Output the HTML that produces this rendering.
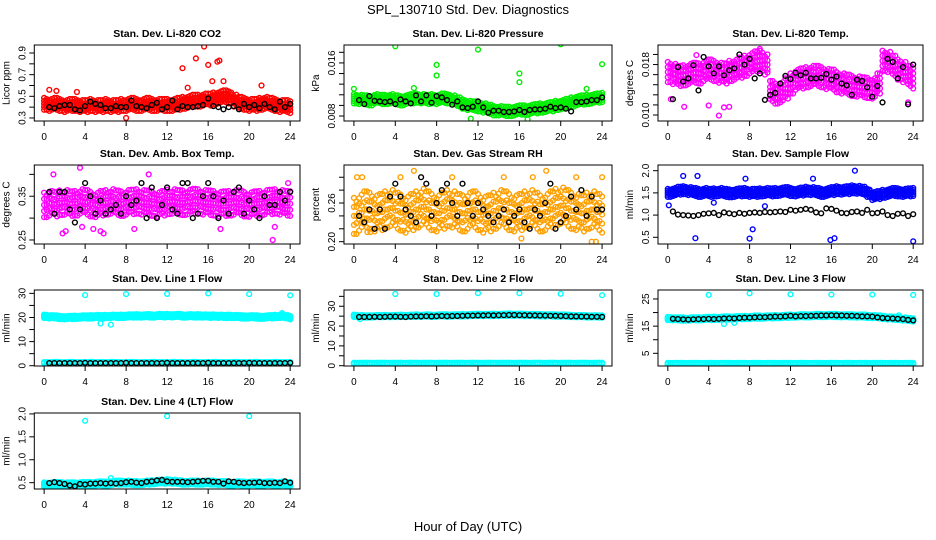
<!DOCTYPE html>
<html><head><meta charset="utf-8"><style>
html,body{margin:0;padding:0;background:#fff;}
svg{display:block;font-family:"Liberation Sans",sans-serif;}
</style></head><body>
<svg id="chart" width="936" height="540" viewBox="0 0 936 540" xmlns="http://www.w3.org/2000/svg">
<rect width="936" height="540" fill="#fff"/>
<text x="468" y="14" font-size="13" text-anchor="middle">SPL_130710  Std. Dev. Diagnostics</text>
<text x="468" y="531" font-size="13" text-anchor="middle">Hour of Day (UTC)</text>
</svg>
<script>
const hourTicks=[0,4,8,12,16,20,24];
// panel 1 CO2
const m1=[0.43,0.42,0.43,0.42,0.41,0.42,0.42,0.41,0.41,0.42,0.41,0.41,0.42,0.41,0.41,0.42,0.42,0.43,0.42,0.42,0.43,0.42,0.42,0.42,0.42,0.42,0.43,0.44,0.45,0.46,0.46,0.47,0.47,0.48,0.49,0.50,0.49,0.46,0.44,0.43,0.42,0.42,0.43,0.44,0.43,0.42,0.41,0.41,0.40];
const b1=[0.40,0.39,0.41,0.42,0.42,0.38,0.37,0.41,0.45,0.43,0.42,0.39,0.39,0.41,0.40,0.40,0.46,0.41,0.40,0.39,0.42,0.44,0.38,0.40,0.46,0.38,0.41,0.40,0.40,0.41,0.42,0.48,0.41,0.40,0.38,0.40,0.41,0.38,0.43,0.40,0.42,0.39,0.43,0.40,0.38,0.45,0.40,0.43];
const o1=[[13.5,0.76],[14.8,0.85],[15.6,0.96],[16,0.79],[16.9,0.82],[17.1,0.83],[8,0.30],[0.5,0.56],[1.2,0.55],[3.2,0.54],[16.4,0.64],[17.5,0.64],[21.2,0.60],[14,0.58]];
// panel 2 pressure
const m2=[0.0106,0.0105,0.0104,0.0103,0.0106,0.0105,0.0105,0.0106,0.0104,0.0103,0.0105,0.0106,0.0107,0.0106,0.0105,0.0106,0.0105,0.0107,0.0106,0.0104,0.0101,0.0098,0.0096,0.0095,0.0094,0.0092,0.0090,0.0088,0.0088,0.0087,0.0087,0.0088,0.0089,0.0089,0.0090,0.0091,0.0092,0.0093,0.0094,0.0096,0.0097,0.0099,0.0101,0.0103,0.0104,0.0105,0.0106,0.0107,0.0108];
const b2=[0.0104,0.0098,0.0110,0.0103,0.0102,0.0101,0.0102,0.0098,0.0105,0.0102,0.0099,0.0111,0.0102,0.0111,0.0100,0.0110,0.0108,0.0104,0.0097,0.0102,0.0093,0.0092,0.0094,0.0102,0.0093,0.0085,0.0088,0.0088,0.0086,0.0086,0.0087,0.0089,0.0086,0.0089,0.0090,0.0090,0.0091,0.0094,0.0092,0.0093,0.0091,0.0087,0.0101,0.0101,0.0102,0.0104,0.0104,0.0108];
const o2=[[0,0.0121],[4,0.0185],[8,0.0157],[8,0.0141],[12,0.0180],[16,0.0144],[16,0.0131],[20,0.0188],[24,0.0158],[5.8,0.0122],[22.5,0.0121],[16.8,0.0075],[11.3,0.0076]];
// panel 3 Li-820 temp
const m3=[0.0168,0.0165,0.0162,0.0163,0.0165,0.0167,0.0166,0.0170,0.0172,0.0170,0.0167,0.0166,0.0170,0.0172,0.0175,0.0178,0.0182,0.0185,0.0186,0.0180,0.0138,0.0134,0.0136,0.0142,0.0150,0.0156,0.0158,0.0160,0.0162,0.0162,0.0160,0.0157,0.0156,0.0152,0.0150,0.0148,0.0146,0.0145,0.0144,0.0143,0.0142,0.0150,0.0186,0.0184,0.0178,0.0172,0.0168,0.0162,0.0158];
const b3=[0.0125,0.0176,0.0153,0.0158,0.0179,0.0139,0.0192,0.0177,0.0166,0.0177,0.0163,0.0171,0.0174,0.0196,0.0180,0.0189,0.0158,0.0166,0.0124,0.0132,0.0135,0.0150,0.0162,0.0157,0.0167,0.0163,0.0167,0.0158,0.0158,0.0159,0.0165,0.0156,0.0161,0.0150,0.0147,0.0132,0.0156,0.0154,0.0144,0.0129,0.0146,0.0120,0.0189,0.0184,0.0158,0.0176,0.0117,0.0180];
const o3=[[5,0.0099],[4,0.0115],[5.5,0.0112],[6,0.0113],[23.5,0.0120],[9,0.0205],[2.8,0.0195],[0.3,0.0125],[1.6,0.0113]];
// panel 4 amb box temp
const m4=[0.330,0.334,0.332,0.335,0.336,0.333,0.334,0.338,0.336,0.332,0.330,0.334,0.336,0.338,0.335,0.333,0.336,0.337,0.338,0.336,0.335,0.333,0.331,0.334,0.337,0.338,0.336,0.335,0.337,0.339,0.338,0.336,0.335,0.334,0.332,0.333,0.334,0.336,0.335,0.332,0.331,0.333,0.334,0.336,0.337,0.338,0.336,0.334,0.333];
const b4=[0.36,0.31,0.36,0.36,0.32,0.29,0.32,0.38,0.35,0.31,0.34,0.31,0.32,0.33,0.31,0.35,0.33,0.34,0.38,0.30,0.37,0.30,0.33,0.37,0.32,0.31,0.38,0.38,0.30,0.31,0.35,0.38,0.35,0.30,0.34,0.31,0.36,0.37,0.31,0.34,0.32,0.30,0.35,0.33,0.33,0.36,0.34,0.36];
const o4=[[1.8,0.265],[2.1,0.27],[5.8,0.265],[5.5,0.27],[3.5,0.415],[0.9,0.40],[10.2,0.40],[22.3,0.25],[3.7,0.28],[4.8,0.275],[8.8,0.275],[17.2,0.275],[22.5,0.28],[23.8,0.38]];
// panel 5 RH
const m5=[0.240,0.245,0.250,0.248,0.244,0.246,0.250,0.252,0.248,0.245,0.242,0.246,0.250,0.254,0.250,0.246,0.244,0.248,0.252,0.250,0.246,0.244,0.248,0.250,0.246,0.242,0.244,0.248,0.252,0.250,0.246,0.244,0.246,0.250,0.252,0.248,0.244,0.246,0.250,0.254,0.256,0.252,0.248,0.246,0.244,0.248,0.250,0.246,0.242];
const b5=[0.24,0.23,0.25,0.22,0.25,0.22,0.27,0.29,0.27,0.25,0.24,0.23,0.30,0.29,0.24,0.26,0.28,0.29,0.26,0.24,0.29,0.26,0.24,0.26,0.25,0.24,0.23,0.24,0.25,0.23,0.24,0.25,0.23,0.22,0.25,0.24,0.26,0.29,0.22,0.23,0.24,0.27,0.25,0.28,0.24,0.27,0.25,0.25];
const o5=[[0.3,0.30],[0.8,0.30],[5.8,0.31],[18.6,0.31],[24,0.30],[23,0.20],[23.4,0.20],[16.2,0.205],[1.3,0.215],[1.6,0.215],[4.5,0.30],[9.5,0.30],[14.5,0.30],[17.3,0.30],[21.5,0.30]];
// panel 6 sample flow
const m6=[1.50,1.52,1.55,1.56,1.54,1.52,1.50,1.52,1.50,1.51,1.52,1.50,1.49,1.50,1.51,1.52,1.50,1.50,1.51,1.52,1.51,1.52,1.53,1.54,1.52,1.51,1.53,1.55,1.54,1.52,1.50,1.52,1.54,1.56,1.55,1.56,1.58,1.57,1.55,1.50,1.43,1.45,1.48,1.50,1.52,1.51,1.50,1.51,1.52];
const b6=[1.08,1.01,1.00,0.99,0.98,1.00,1.03,1.04,1.05,1.00,1.06,1.04,1.02,1.05,1.03,1.05,1.06,1.05,1.07,1.06,1.07,1.08,1.07,1.12,1.10,1.12,1.14,1.12,1.06,1.04,1.15,1.14,1.10,1.05,1.04,1.07,1.08,1.05,1.12,1.04,1.05,1.08,1.00,0.98,1.03,1.04,0.98,1.02];
const o6=[[2.7,0.48],[8,0.47],[8.3,0.68],[15.9,0.44],[16.3,0.48],[24,0.41],[18.3,2.0],[1.5,1.88],[2.9,1.88],[0.1,1.22],[4.5,1.28],[9.5,1.2],[7.6,1.82],[14.2,1.82]];
// panel 7 line 1
const m7=[20.5,20.3,20.2,20.0,19.9,20.0,20.1,20.2,20.2,20.3,20.4,20.3,20.4,20.5,20.4,20.5,20.6,20.6,20.7,20.6,20.7,20.6,20.8,20.7,20.8,20.7,20.8,20.6,20.7,20.6,20.7,20.6,20.5,20.6,20.5,20.4,20.5,20.4,20.3,20.2,20.3,20.2,20.1,20.2,20.3,20.4,20.5,20.3,19.9];
const n7=[1.3,1.3,1.4,1.3,1.3,1.4,1.3,1.3,1.3,1.4,1.3,1.3,1.3,1.4,1.3,1.3,1.3,1.4,1.3,1.3,1.3,1.4,1.3,1.3,1.3,1.4,1.3,1.3,1.3,1.4,1.3,1.3,1.3,1.4,1.3,1.3,1.3,1.4,1.3,1.3,1.3,1.4,1.3,1.3,1.3,1.4,1.3,1.3,1.3];
const b7=[1.1,1.1,1.1,1.1,1.1,1.1,1.1,1.2,1.1,1.1,1.1,1.1,1.1,1.1,1.1,1.2,1.1,1.1,1.1,1.1,1.1,1.1,1.1,1.2,1.1,1.1,1.1,1.1,1.1,1.1,1.1,1.2,1.1,1.1,1.1,1.1,1.1,1.1,1.1,1.2,1.1,1.1,1.1,1.1,1.1,1.1,1.1,1.2];
const o7=[[4,29.3],[8,29.7],[12,29.8],[16,30],[20,29.7],[24,29.2],[5.5,17.5],[6.5,17],[23.2,21.8]];
// panel 8 line 2
const m8=[25.2,25.0,24.8,24.9,25.0,25.0,25.1,25.0,25.1,25.2,25.1,25.2,25.3,25.2,25.3,25.2,25.3,25.4,25.3,25.4,25.4,25.5,25.5,25.6,25.7,25.6,25.6,25.7,25.6,25.7,25.8,25.7,25.7,25.6,25.6,25.5,25.5,25.4,25.4,25.3,25.3,25.2,25.1,25.0,25.0,24.9,24.9,24.8,24.8];
const n8=[1.2,1.2,1.2,1.2,1.2,1.2,1.2,1.2,1.2,1.2,1.2,1.2,1.2,1.2,1.2,1.2,1.2,1.2,1.2,1.2,1.2,1.2,1.2,1.2,1.2,1.2,1.2,1.2,1.2,1.2,1.2,1.2,1.2,1.2,1.2,1.2,1.2,1.2,1.2,1.2,1.2,1.2,1.2,1.2,1.2,1.2,1.2,1.2,1.2];
const b8=[24.6,24.6,24.6,24.7,24.6,24.7,24.8,24.8,24.7,24.6,24.8,24.9,24.9,25.0,24.9,25.0,25.1,25.0,25.1,25.1,25.2,25.3,25.3,25.4,25.4,25.5,25.4,25.5,25.5,25.6,25.6,25.5,25.5,25.4,25.4,25.3,25.3,25.2,25.2,25.1,25.0,24.9,24.9,24.8,24.8,24.7,24.7,24.6];
const o8=[[4,36.2],[8,36.2],[12,36.6],[16,36.6],[20,36.3],[24,35.6],[0.6,23.5]];
// panel 9 line 3
const m9=[17.8,17.7,17.6,17.6,17.6,17.7,17.7,17.8,17.8,17.9,17.9,18.0,18.0,18.1,18.1,18.2,18.2,18.3,18.3,18.4,18.4,18.5,18.5,18.6,18.7,18.7,18.8,18.8,18.8,18.9,18.9,18.9,18.9,18.9,18.8,18.8,18.8,18.7,18.7,18.6,18.5,18.4,18.2,18.0,17.9,17.8,17.6,17.4,17.3];
const n9=[1.2,1.2,1.2,1.2,1.2,1.2,1.2,1.2,1.2,1.2,1.2,1.2,1.2,1.2,1.2,1.2,1.2,1.2,1.2,1.2,1.2,1.2,1.2,1.2,1.2,1.2,1.2,1.2,1.2,1.2,1.2,1.2,1.2,1.2,1.2,1.2,1.2,1.2,1.2,1.2,1.2,1.2,1.2,1.2,1.2,1.2,1.2,1.2,1.2];
const b9=[17.7,17.6,17.5,17.4,17.5,17.6,17.6,17.7,17.6,17.7,17.8,17.9,17.8,18.0,18.1,18.1,18.2,18.3,18.3,18.4,18.5,18.5,18.6,18.8,18.6,18.7,18.7,18.8,18.8,18.9,18.9,19.0,18.9,18.9,18.8,18.8,18.7,18.6,18.6,18.5,18.2,18.0,17.9,17.8,17.7,17.6,17.3,17.1];
const o9=[[4,26.5],[8,27.1],[12,26.7],[16,26.6],[20,26.6],[24,26.5],[5.5,15.8],[6.5,16.2],[22.6,19.0]];
// panel 10 line 4
const m10=[0.46,0.46,0.47,0.47,0.46,0.46,0.46,0.47,0.47,0.47,0.48,0.48,0.48,0.49,0.50,0.50,0.50,0.49,0.49,0.49,0.50,0.51,0.52,0.52,0.53,0.52,0.51,0.50,0.50,0.50,0.50,0.50,0.50,0.50,0.49,0.49,0.48,0.48,0.48,0.48,0.48,0.48,0.48,0.48,0.48,0.47,0.48,0.47,0.47];
const b10=[0.49,0.51,0.49,0.47,0.44,0.42,0.47,0.46,0.48,0.48,0.49,0.48,0.49,0.48,0.49,0.51,0.52,0.50,0.49,0.52,0.53,0.55,0.56,0.53,0.52,0.52,0.52,0.51,0.52,0.53,0.54,0.54,0.52,0.52,0.48,0.53,0.52,0.50,0.49,0.50,0.50,0.51,0.49,0.49,0.50,0.49,0.53,0.50];
const o10=[[4,1.85],[12,1.95],[20,1.95],[6.5,0.6]];

const colBox=[[34.3,300],[344,612],[658,923]];
const rowBox=[[45,121],[165,244],[290,366],[413,489]];
const panels=[
 {name:'co2',title:'Stan. Dev. Li-820 CO2',ylab:'Licor ppm',c:0,r:0,lo:0.272,hi:0.974,ticks:[0.3,0.4,0.5,0.6,0.7,0.8,0.9],labs:{'0.3':'0.3','0.5':'0.5','0.7':'0.7','0.9':'0.9'},color:'#ff0000',bands:[[m1,0.055]],black:b1,out:o1},
 {name:'pressure',title:'Stan. Dev. Li-820 Pressure',ylab:'kPa',c:1,r:0,lo:0.00725,hi:0.0187,ticks:[0.008,0.0096,0.0112,0.0128,0.0144,0.016,0.0176],labs:{'0.008':'0.008','0.016':'0.016'},color:'#00ee00',bands:[[m2,0.0007]],black:b2,out:o2},
 {name:'li820-temp',title:'Stan. Dev. Li-820 Temp.',ylab:'degrees C',c:2,r:0,lo:0.00905,hi:0.0211,ticks:[0.010,0.0116,0.0132,0.0148,0.0164,0.018,0.0196],labs:{'0.01':'0.010','0.018':'0.018'},color:'#ff00ff',bands:[[m3,0.0016]],black:b3,out:o3},
 {name:'amb-box-temp',title:'Stan. Dev. Amb. Box Temp.',ylab:'degrees C',c:0,r:1,lo:0.2408,hi:0.4214,ticks:[0.25,0.30,0.35,0.40],labs:{'0.25':'0.25','0.35':'0.35'},color:'#ff00ff',bands:[[m4,0.028]],black:b4,out:o4},
 {name:'gas-stream-rh',title:'Stan. Dev. Gas Stream RH',ylab:'percent',c:1,r:1,lo:0.1964,hi:0.319,ticks:[0.20,0.22,0.24,0.26,0.28,0.30],labs:{'0.2':'0.20','0.26':'0.26'},color:'#ffa000',bands:[[m5,0.028]],black:b5,out:o5},
 {name:'sample-flow',title:'Stan. Dev. Sample Flow',ylab:'ml/min',c:2,r:1,lo:0.349,hi:2.128,ticks:[0.5,1.0,1.5,2.0],labs:{'0.5':'0.5','1':'1.0','1.5':'1.5','2':'2.0'},color:'#0000ff',bands:[[m6,0.09]],black:b6,out:o6},
 {name:'line1-flow',title:'Stan. Dev. Line 1 Flow',ylab:'ml/min',c:0,r:2,lo:-0.12,hi:31.4,ticks:[0,5,10,15,20,25,30],labs:{'0':'0','10':'10','20':'20','30':'30'},color:'#00ffff',bands:[[m7,0.7],[n7,0.2]],black:b7,out:o7},
 {name:'line2-flow',title:'Stan. Dev. Line 2 Flow',ylab:'ml/min',c:1,r:2,lo:-0.15,hi:38.2,ticks:[0,5,10,15,20,25,30,35],labs:{'0':'0','10':'10','20':'20','30':'30'},color:'#00ffff',bands:[[m8,0.6],[n8,0.3]],black:b8,out:o8},
 {name:'line3-flow',title:'Stan. Dev. Line 3 Flow',ylab:'ml/min',c:2,r:2,lo:0.33,hi:28.3,ticks:[5,10,15,20,25],labs:{'5':'5','15':'15','25':'25'},color:'#00ffff',bands:[[m9,0.6],[n9,0.3]],black:b9,out:o9},
 {name:'line4-flow',title:'Stan. Dev. Line 4 (LT) Flow',ylab:'ml/min',c:0,r:3,lo:0.362,hi:2.02,ticks:[0.5,1.0,1.5,2.0],labs:{'0.5':'0.5','1':'1.0','1.5':'1.5','2':'2.0'},color:'#00ffff',bands:[[m10,0.045]],black:b10,out:o10}
];
const NS='http://www.w3.org/2000/svg';
const svg=document.getElementById('chart');
function mk(tag,attrs,parent){const e=document.createElementNS(NS,tag);for(const k in attrs)e.setAttribute(k,attrs[k]);parent.appendChild(e);return e;}
panels.forEach(p=>{
 const [L,R]=colBox[p.c],[T,B]=rowBox[p.r];
 const w=R-L,pad=w*0.04/1.08;
 const xs=h=>L+pad+(h/24)*(w-2*pad);
 const ys=v=>B-(v-p.lo)/(p.hi-p.lo)*(B-T);
 const g=mk('g',{},svg);
 
 
 const clip=mk('clipPath',{id:'clip-'+p.name},g);
 mk('rect',{x:L,y:T,width:w,height:B-T},clip);
 const pts=mk('g',{'clip-path':'url(#clip-'+p.name+')',fill:'none','stroke-width':1.4},g);
 
 
 p.bands.forEach((band,bi)=>{
  const [mean,sp]=band;
  const cg=mk('g',{stroke:p.color},pts);
  
  
  mean.forEach((v,i)=>{
   const h=i*0.5;
   [0,0.25].forEach(dx=>{
    if(h+dx>24)return;
    [-1,-0.5,0,0.5,1].forEach(k=>{
     const c=mk('circle',{cx:xs(h+dx).toFixed(1),cy:ys(v+k*sp*((i+k*2+dx*4)%3===0?0.8:1)).toFixed(1),r:2.4},cg);
     
     
    });
   });
  });
 });
 const og=mk('g',{stroke:p.color},pts);
 
 
 p.out.forEach(o=>{
  const c=mk('circle',{cx:xs(o[0]).toFixed(1),cy:ys(o[1]).toFixed(1),r:2.4},og);
  
  
 });
 const bg=mk('g',{stroke:'#000'},pts);
 
 
 p.black.forEach((v,i)=>{
  const c=mk('circle',{cx:xs((i+1)*0.5).toFixed(1),cy:ys(v).toFixed(1),r:2.4},bg);
  
  
 });
 const box=mk('rect',{x:L,y:T,width:w,height:B-T,fill:'none',stroke:'#000','stroke-width':1},g);
 
 
 const t=mk('text',{x:(L+R)/2,y:T-8,'font-size':10.5,'font-weight':'bold','text-anchor':'middle'},g);
 t.textContent=p.title;
 
 
 const yl=mk('text',{transform:`translate(${L-25},${(T+B)/2}) rotate(-90)`,'font-size':10,'text-anchor':'middle'},g);
 yl.textContent=p.ylab;
 
 
 hourTicks.forEach(h=>{
  const x=xs(h);
  mk('line',{x1:x,x2:x,y1:B,y2:B+5,stroke:'#000'},g);
  const tl=mk('text',{x:x,y:B+19,'font-size':10,'text-anchor':'middle'},g);
  tl.textContent=String(h);
  
  
 });
 p.ticks.forEach(v=>{
  const y=ys(v);
  mk('line',{x1:L-5,x2:L,y1:y,y2:y,stroke:'#000'},g);
  const key=String(+v.toFixed(6));
  if(p.labs[key]!==undefined){
   const tl=mk('text',{transform:`translate(${L-9},${y}) rotate(-90)`,'font-size':10,'text-anchor':'middle'},g);
   tl.textContent=p.labs[key];
   
   
  }
 });
});
</script>
</body></html>
